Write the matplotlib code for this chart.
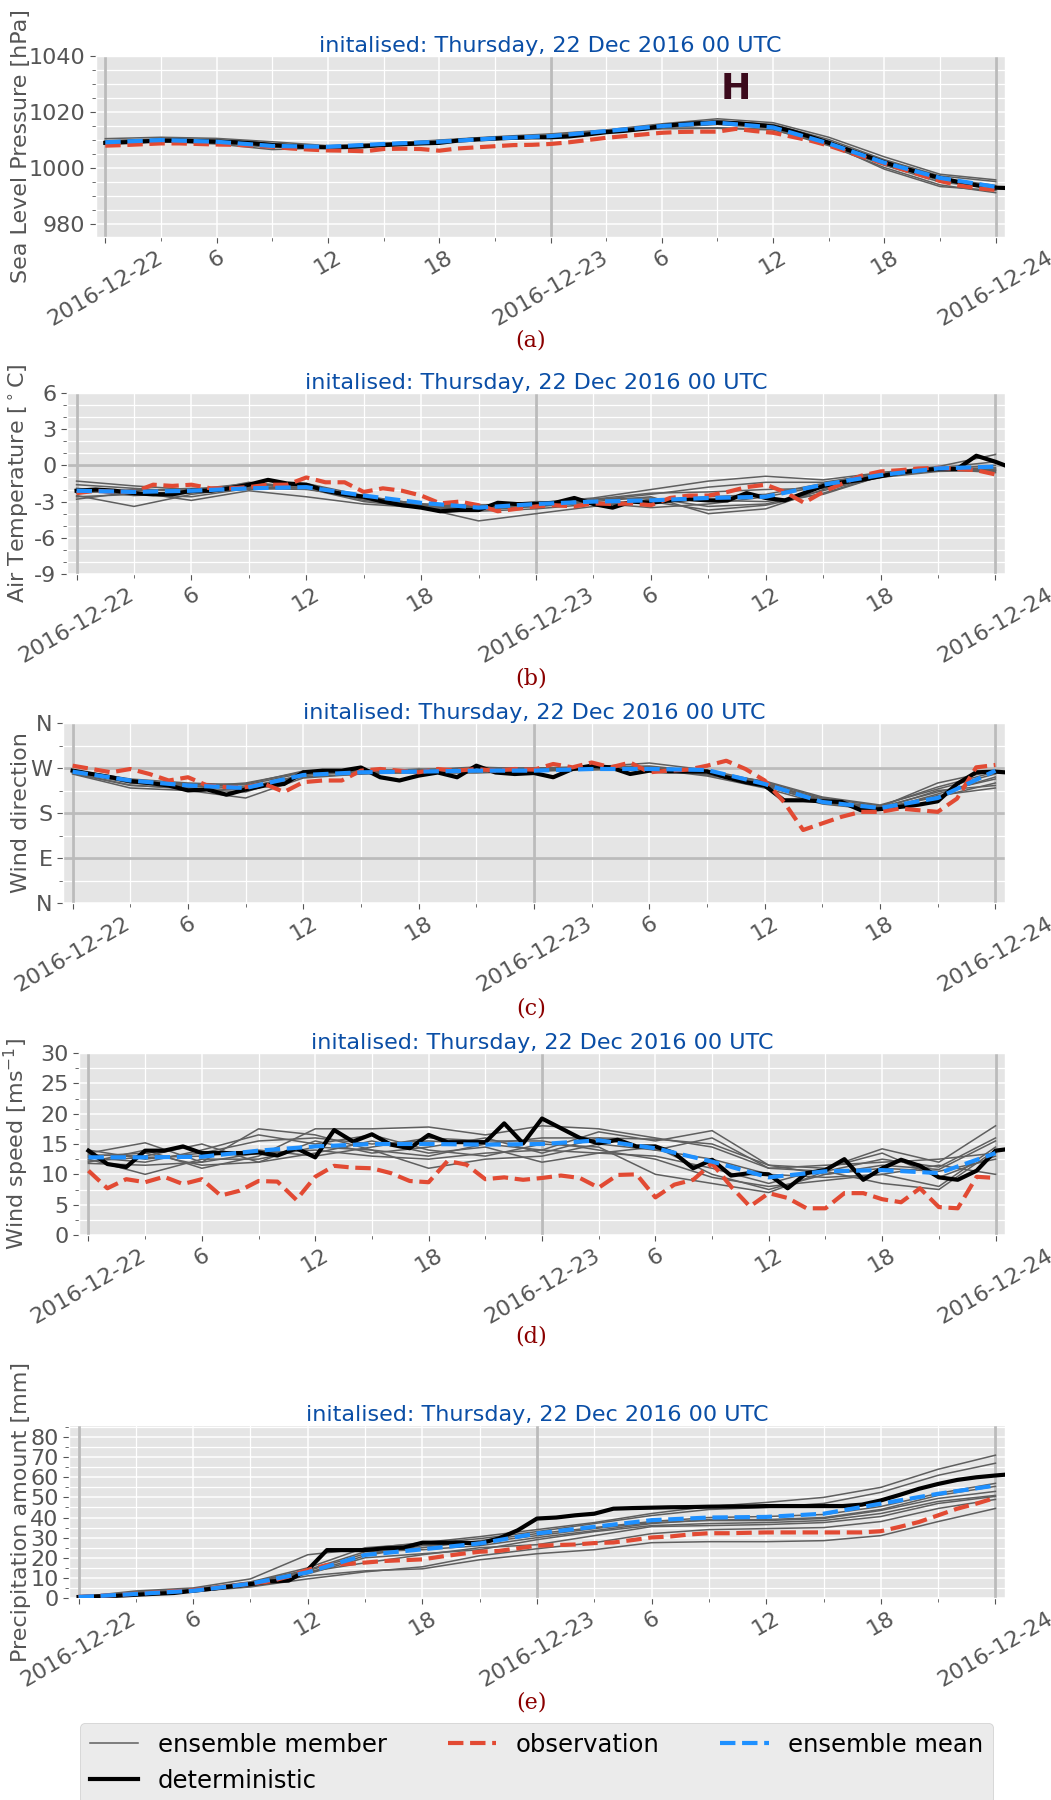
import numpy as np
import matplotlib
matplotlib.use('Agg')
import matplotlib.pyplot as plt
import matplotlib.dates as mdates
from matplotlib.ticker import MultipleLocator, FuncFormatter
from matplotlib.lines import Line2D

plt.style.use('ggplot')
plt.rcParams['axes.unicode_minus'] = False

# ---------------- data (hours after 2016-12-22 00 UTC) ----------------
start = np.datetime64('2016-12-22T00:00')
det_hours = np.arange(0, 50)      # deterministic, hourly
obs_hours = np.arange(0, 49)      # observation, hourly
ens_hours = np.arange(0, 49, 3)   # ensemble members / mean, 3-hourly

# (a) sea level pressure [hPa]
slp_members = [
    [1010.5, 1011.0, 1010.6, 1009.4, 1008.0, 1008.8, 1010.0, 1011.2, 1012.2, 1013.6, 1015.8, 1017.6, 1016.2, 1011.0, 1004.0, 997.8, 995.8],
    [1009.8, 1010.4, 1010.2, 1008.8, 1007.8, 1008.6, 1009.6, 1010.8, 1011.8, 1013.2, 1015.2, 1016.8, 1015.6, 1010.2, 1003.0, 997.2, 995.2],
    [1009.0, 1009.8, 1009.0, 1007.4, 1007.4, 1008.4, 1009.2, 1010.4, 1011.2, 1013.0, 1014.8, 1016.2, 1014.8, 1009.2, 1001.8, 996.0, 993.5],
    [1008.6, 1009.4, 1008.6, 1006.6, 1007.2, 1008.2, 1009.4, 1010.2, 1011.0, 1012.6, 1014.4, 1015.6, 1014.2, 1008.4, 1001.0, 995.0, 992.8],
    [1009.4, 1009.8, 1009.4, 1007.8, 1007.6, 1008.8, 1009.8, 1010.6, 1011.6, 1013.4, 1015.0, 1016.4, 1015.0, 1009.0, 1002.2, 996.8, 992.2],
    [1009.2, 1010.0, 1009.6, 1008.2, 1007.4, 1008.4, 1009.0, 1010.4, 1011.2, 1012.8, 1014.2, 1014.4, 1013.8, 1008.0, 1000.2, 994.0, 991.2],
    [1008.8, 1009.6, 1009.2, 1008.0, 1007.8, 1008.8, 1009.6, 1010.8, 1011.6, 1013.4, 1015.4, 1017.0, 1015.2, 1009.6, 1002.6, 996.4, 993.8],
    [1009.6, 1010.2, 1009.8, 1008.4, 1007.2, 1008.2, 1009.2, 1010.6, 1011.4, 1013.0, 1014.6, 1015.8, 1014.6, 1008.8, 1001.4, 995.6, 992.6],
    [1009.0, 1009.6, 1009.0, 1007.6, 1007.6, 1008.6, 1009.4, 1010.4, 1011.2, 1012.8, 1014.0, 1014.2, 1013.6, 1008.6, 999.6, 993.4, 992.0],
]
slp_mean = [1009.2, 1010.0, 1009.4, 1007.9, 1007.6, 1008.6, 1009.4, 1010.6, 1011.4, 1013.2,
            1015.0, 1016.2, 1014.5, 1008.8, 1001.9, 996.5, 993.3]
slp_det = [1009.0, 1009.2, 1009.5, 1009.8, 1009.8, 1009.6, 1009.4, 1009.2, 1008.8, 1008.2,
           1007.8, 1007.5, 1007.4, 1007.5, 1007.8, 1008.2, 1008.5, 1008.8, 1009.0, 1009.8,
           1010.2, 1010.5, 1010.8, 1011.0, 1011.0, 1011.3, 1012.0, 1012.8, 1013.3, 1014.0,
           1015.0, 1015.6, 1016.0, 1016.2, 1016.0, 1015.5, 1014.8, 1013.2, 1011.2, 1009.0,
           1006.6, 1004.3, 1002.0, 1000.0, 998.2, 996.5, 995.0, 993.8, 993.0, 992.8]
slp_obs = [1008.0, 1008.2, 1008.5, 1008.8, 1008.8, 1008.6, 1008.4, 1008.3, 1008.0, 1007.6,
           1007.0, 1006.6, 1006.3, 1006.2, 1006.0, 1006.8, 1006.9, 1006.8, 1006.2, 1007.0,
           1007.4, 1007.8, 1008.2, 1008.3, 1008.6, 1009.2, 1010.0, 1010.8, 1011.4, 1012.0,
           1012.6, 1012.9, 1013.0, 1013.0, 1014.0, 1013.2, 1012.6, 1011.2, 1009.8, 1008.0,
           1005.8, 1003.7, 1001.6, 999.5, 997.4, 995.4, 993.8, 992.8, 992.2]

# (b) air temperature [degC]
t2m_members = [
    [-1.3, -1.7, -2.0, -1.5, -1.7, -2.6, -3.2, -3.3, -3.1, -2.7, -2.0, -1.3, -0.9, -1.2, -0.6, -0.1, 0.9],
    [-1.6, -1.9, -2.2, -1.7, -1.5, -2.5, -3.3, -3.5, -3.3, -2.9, -2.4, -1.8, -1.4, -1.4, -0.7, -0.2, 0.3],
    [-2.8, -2.2, -2.9, -2.1, -2.6, -3.2, -3.5, -4.6, -4.0, -3.4, -2.8, -2.9, -3.0, -2.4, -0.9, -0.4, -0.4],
    [-2.5, -3.4, -2.4, -1.8, -1.9, -2.8, -3.4, -3.6, -3.4, -3.0, -2.6, -4.0, -3.6, -2.0, -0.8, -0.3, -0.6],
    [-2.2, -2.1, -1.9, -1.9, -1.6, -2.7, -3.3, -3.3, -3.2, -2.8, -2.7, -3.4, -3.2, -2.1, -0.9, -0.4, -0.3],
    [-1.9, -2.3, -2.2, -2.0, -1.8, -2.9, -3.4, -3.4, -3.0, -3.1, -3.5, -3.2, -2.6, -1.7, -0.7, -0.2, -0.5],
    [-2.0, -2.5, -2.3, -1.4, -1.9, -3.0, -3.5, -3.7, -3.4, -3.1, -3.0, -3.7, -3.3, -2.3, -0.9, -0.3, -0.2],
    [-2.3, -2.0, -2.1, -1.6, -1.7, -2.7, -3.2, -3.5, -3.3, -2.8, -2.3, -2.2, -2.0, -1.9, -1.0, -0.5, -0.4],
    [-2.6, -2.4, -2.6, -1.9, -2.0, -2.6, -3.2, -3.8, -3.6, -3.2, -2.9, -2.6, -2.4, -1.5, -0.6, -0.3, 0.0],
]
t2m_mean = [-2.1, -2.2, -2.1, -1.9, -1.8, -2.5, -3.1, -3.5, -3.2, -3.0, -2.9, -2.7, -2.6, -1.6,
            -0.8, -0.25, -0.1]
t2m_det = [-2.1, -2.0, -2.1, -2.3, -2.4, -2.4, -2.1, -2.1, -1.9, -1.6,
           -1.2, -1.5, -1.6, -2.1, -2.4, -2.6, -3.0, -3.3, -3.5, -3.8,
           -3.7, -3.7, -3.1, -3.2, -3.2, -3.1, -2.7, -3.2, -3.5, -3.0,
           -3.1, -2.9, -2.8, -2.9, -2.9, -2.3, -2.7, -2.9, -2.3, -1.7,
           -1.4, -1.2, -0.9, -0.6, -0.4, -0.3, -0.3, 0.8, 0.3, -0.3]
t2m_obs = [-2.3, -2.1, -2.2, -2.2, -1.6, -1.7, -1.6, -1.9, -1.9, -1.8,
           -1.6, -1.6, -1.0, -1.4, -1.4, -2.2, -1.9, -2.1, -2.5, -3.15,
           -3.0, -3.3, -3.8, -3.6, -3.4, -3.3, -3.4, -3.15, -3.2, -3.15,
           -3.3, -2.7, -2.5, -2.5, -2.2, -1.8, -1.6, -2.2, -3.1, -2.2,
           -1.5, -0.85, -0.5, -0.4, -0.25, -0.2, -0.3, -0.4, -0.75]

# (c) wind direction [deg]
dir_members = [
    [262, 240, 232, 240, 262, 262, 264, 268, 270, 272, 274, 262, 240, 206, 192, 240, 265],
    [258, 230, 225, 210, 250, 258, 262, 262, 266, 268, 270, 256, 236, 200, 188, 225, 235],
    [265, 245, 238, 232, 255, 264, 266, 270, 270, 272, 280, 266, 242, 210, 194, 232, 262],
    [260, 236, 228, 222, 258, 260, 260, 260, 264, 266, 268, 254, 230, 198, 186, 215, 230],
    [263, 242, 234, 230, 256, 262, 268, 266, 268, 270, 270, 260, 244, 212, 196, 228, 258],
    [266, 248, 240, 236, 260, 264, 262, 264, 266, 270, 272, 264, 238, 204, 190, 212, 240],
    [259, 235, 230, 226, 252, 258, 264, 262, 264, 268, 268, 258, 234, 202, 192, 222, 248],
    [262, 244, 236, 238, 264, 266, 266, 272, 268, 270, 272, 262, 238, 208, 186, 218, 252],
]
dir_mean = [262.7, 245, 235, 230, 256, 261.4, 262.7, 264.7, 264.7, 268, 268, 266, 238, 202,
            190, 210, 264.7]
dir_det = [264.7, 258, 251.5, 243.6, 240, 235, 225.2, 227, 216.6, 227,
           235, 238, 261.4, 264.7, 264.7, 271, 251.5, 245, 254.8, 261,
           251.5, 274.6, 261, 258, 260, 251.5, 268, 274.6, 271, 258,
           264.7, 263, 263, 263, 251.5, 241.7, 235, 205.4, 205.4, 203.4,
           202, 185.6, 187.6, 192, 196.6, 203.4, 238, 261.4, 262.7, 260]
dir_obs = [274.6, 268, 261.4, 268, 258, 245, 251.5, 235, 231.8, 231.8,
           238, 222, 241.7, 245, 245, 264.7, 268, 264.7, 261.4, 268,
           264.7, 268, 264.7, 268, 266.7, 278, 271.3, 281, 271.3, 281,
           261.4, 264.7, 266.7, 274.6, 284.5, 268, 245, 202, 146, 159.3,
           172.4, 182.3, 182.3, 189, 185.6, 182.3, 208.7, 271.3, 276]

# (d) wind speed [m s-1]
ff_members = [
    [13.5, 15.2, 12.0, 17.5, 16.5, 14.0, 13.0, 15.0, 14.0, 17.0, 15.5, 17.2, 11.5, 11.0, 14.2, 12.0, 18.0],
    [12.0, 14.0, 11.0, 13.0, 17.5, 17.5, 17.8, 16.5, 18.0, 17.5, 16.0, 14.5, 11.0, 10.5, 12.5, 11.2, 16.0],
    [14.0, 12.5, 13.5, 15.5, 16.0, 15.0, 15.5, 15.0, 16.0, 16.0, 15.8, 15.0, 11.5, 10.0, 11.5, 10.8, 15.5],
    [12.5, 10.0, 12.5, 12.5, 14.5, 14.0, 11.0, 12.5, 13.0, 15.0, 14.0, 12.5, 10.0, 9.5, 10.0, 8.0, 14.5],
    [11.8, 11.5, 12.0, 13.5, 14.0, 13.0, 12.5, 13.5, 14.0, 13.5, 13.0, 11.0, 8.5, 11.0, 13.5, 9.5, 13.0],
    [13.0, 13.5, 11.5, 12.0, 13.5, 15.5, 13.5, 14.5, 12.0, 13.5, 14.5, 10.0, 7.5, 10.0, 11.0, 10.5, 12.5],
    [12.8, 12.0, 14.0, 16.5, 15.0, 16.5, 14.0, 13.0, 15.0, 14.5, 10.0, 8.5, 7.0, 10.5, 8.5, 7.5, 14.0],
    [12.2, 12.8, 13.0, 14.0, 13.0, 14.5, 16.0, 15.5, 15.5, 14.0, 12.5, 9.5, 8.0, 9.0, 10.0, 11.5, 10.0],
    [13.2, 13.0, 15.0, 12.0, 15.5, 13.5, 14.5, 16.0, 13.5, 16.0, 14.0, 16.0, 11.0, 11.5, 12.0, 12.5, 13.5],
]
ff_mean = [12.8, 12.8, 12.9, 13.9, 14.6, 15.0, 15.0, 14.9, 15.0, 15.6, 14.3, 12.1, 9.5, 10.5,
           10.7, 10.2, 13.5]
ff_det = [13.9, 11.7, 11.2, 13.9, 13.9, 14.6, 13.5, 13.5, 13.5, 13.6,
          13.1, 14.3, 12.8, 17.3, 15.4, 16.6, 14.9, 14.3, 16.5, 15.3,
          15.3, 15.3, 18.4, 15.1, 19.2, 17.6, 16.0, 15.1, 15.7, 14.6,
          14.6, 13.5, 11.0, 12.4, 9.8, 10.2, 10.0, 7.7, 10.2, 10.7,
          12.5, 9.1, 11.0, 12.4, 11.4, 9.5, 9.1, 10.6, 13.9, 14.3]
ff_obs = [10.6, 7.7, 9.2, 8.7, 9.6, 8.4, 9.2, 6.5, 7.3, 8.9,
          8.8, 5.8, 9.6, 11.4, 11.1, 11.0, 10.2, 8.9, 8.7, 12.2,
          11.6, 9.2, 9.5, 9.1, 9.4, 9.8, 9.4, 7.8, 9.9, 10.0,
          6.2, 8.3, 9.1, 11.8, 8.0, 4.7, 6.9, 6.1, 4.4, 4.4,
          6.9, 6.9, 5.9, 5.4, 7.7, 4.6, 4.4, 9.6, 9.4]

# (e) accumulated precipitation [mm]
rr_members = [
    [0.5, 3.5, 5.0, 9.5, 21.5, 24.5, 27.5, 30.5, 34.0, 37.5, 42.0, 45.5, 47.5, 50.0, 55.0, 64.0, 71.0],
    [0.5, 3.0, 4.5, 8.0, 15.0, 25.0, 27.0, 29.5, 33.0, 37.0, 41.0, 44.0, 45.0, 47.0, 52.5, 61.0, 67.0],
    [0.3, 2.5, 4.0, 7.5, 13.5, 22.0, 25.0, 28.5, 32.0, 35.0, 38.0, 40.0, 40.5, 41.5, 45.5, 52.0, 57.0],
    [0.4, 2.2, 3.8, 6.5, 12.0, 20.0, 22.0, 24.0, 29.0, 33.0, 36.0, 37.0, 37.5, 38.5, 42.0, 48.0, 51.0],
    [0.2, 2.0, 3.5, 6.0, 11.0, 13.5, 14.5, 19.0, 22.0, 24.0, 27.5, 28.0, 28.0, 28.5, 31.0, 38.0, 44.5],
    [0.3, 1.8, 3.2, 5.5, 9.5, 13.0, 15.5, 21.0, 24.5, 27.5, 32.0, 34.0, 34.5, 35.0, 38.0, 44.5, 49.0],
    [0.4, 2.4, 3.9, 7.0, 12.5, 21.0, 26.0, 27.5, 31.0, 34.5, 37.5, 38.5, 38.5, 39.5, 43.5, 49.5, 53.0],
    [0.3, 2.1, 3.6, 6.8, 13.0, 17.5, 21.5, 25.0, 26.5, 31.0, 35.5, 36.0, 36.5, 37.5, 40.5, 47.0, 50.5],
    [0.5, 2.6, 4.2, 7.8, 14.0, 23.0, 24.0, 26.0, 30.0, 33.5, 37.0, 39.0, 39.0, 40.0, 44.0, 51.0, 55.5],
]
rr_mean = [0.5, 2.0, 3.6, 7.1, 12.8, 21.4, 24.2, 27.1, 32.1, 35.4, 38.7, 40.0, 40.3, 41.9,
           46.9, 51.8, 55.9]
rr_det = [0.5, 0.8, 1.1, 1.6, 2.1, 2.5, 3.6, 4.6, 5.8, 6.9,
          8.2, 8.7, 14.0, 23.8, 23.8, 23.8, 24.7, 25.0, 27.5, 27.5,
          27.5, 27.1, 29.6, 33.7, 39.5, 40.0, 41.1, 41.9, 44.4, 44.7,
          44.9, 45.1, 45.2, 45.4, 45.5, 45.5, 45.7, 45.7, 45.7, 45.7,
          45.7, 46.4, 48.5, 51.3, 54.3, 56.7, 58.7, 60.0, 60.9, 61.7]
rr_obs = [0.5, 1.0, 1.5, 2.1, 2.7, 3.3, 3.9, 4.9, 6.0, 7.1,
          8.2, 10.7, 14.0, 16.4, 16.9, 17.6, 18.4, 18.8, 19.2, 20.6,
          21.9, 23.0, 23.4, 24.7, 26.0, 26.3, 26.6, 27.3, 27.6, 28.8,
          30.1, 30.6, 31.6, 32.2, 32.2, 32.4, 32.6, 32.6, 32.6, 32.6,
          32.6, 32.6, 33.2, 35.4, 37.8, 41.1, 44.4, 46.9, 49.8]

ylabels = ['Sea Level Pressure [hPa]', r'Air Temperature [$^\circ$C]', 'Wind direction',
           r'Wind speed [ms$^{-1}$]', 'Precipitation amount [mm]']
panel_tags = ['(a)', '(b)', '(c)', '(d)', '(e)']
title_text = 'initalised: Thursday, 22 Dec 2016 00 UTC'

# ---------------- layout (pixel boxes: left, top, bottom) ----------------
W, H = 1051, 1800
fig = plt.figure(figsize=(W / 100, H / 100), dpi=100)
fig.patch.set_facecolor('white')
right_px = 1005
boxes = [(96, 56, 237), (67, 393, 574), (63, 723, 903), (79, 1053, 1235), (69, 1425, 1598)]
tag_y = [341, 678, 1008, 1337, 1702]


def to_time(h):
    return start + np.asarray(h).astype('timedelta64[h]')


def tick_fmt(x, pos):
    d = mdates.num2date(x)
    if d.hour == 0:
        return d.strftime('%Y-%m-%d')
    return str(d.hour)


panels = [
    (slp_members, slp_mean, slp_det, slp_obs),
    (t2m_members, t2m_mean, t2m_det, t2m_obs),
    (dir_members, dir_mean, dir_det, dir_obs),
    (ff_members, ff_mean, ff_det, ff_obs),
    (rr_members, rr_mean, rr_det, rr_obs),
]

tick_col = '#555555'
for i, (members, mean, det, obs) in enumerate(panels):
    left, top, bot = boxes[i]
    ax = fig.add_axes([left / W, 1 - bot / H, (right_px - left) / W, (bot - top) / H])

    for m in members:
        ax.plot(to_time(ens_hours), m, color='#5f5f5f', lw=1.1, zorder=3)
    ax.plot(to_time(det_hours), det, color='black', lw=3, zorder=4)
    ax.plot(to_time(obs_hours), obs, color='#E24A33', lw=3, ls='--', zorder=5)
    ax.plot(to_time(ens_hours), mean, color='#1E90FF', lw=3, ls='--', zorder=6)

    for d in [0, 24, 48]:
        ax.axvline(to_time(d), color='#BBBBBB', lw=2, zorder=2)

    ax.set_xlim(start - np.timedelta64(30, 'm'), start + np.timedelta64(48 * 60 + 30, 'm'))
    ax.xaxis.set_major_locator(mdates.HourLocator(byhour=[0, 6, 12, 18]))
    ax.xaxis.set_minor_locator(mdates.HourLocator(byhour=range(0, 24, 3)))
    ax.xaxis.set_major_formatter(FuncFormatter(tick_fmt))
    for lab in ax.get_xticklabels():
        lab.set_rotation(30)
        lab.set_ha('center')

    ax.grid(True, which='major', color='white', lw=1.1)
    ax.grid(True, which='minor', color='white', lw=0.9)
    ax.tick_params(axis='both', which='major', labelsize=16, colors=tick_col, length=4)
    ax.tick_params(axis='both', which='minor', colors=tick_col, length=3)
    ax.tick_params(axis='x', labelrotation=30)

    ax.set_title(title_text, color='#0a4ea6', fontsize=16, pad=3)
    ax.set_ylabel(ylabels[i], fontsize=16, color=tick_col)
    ax.yaxis.set_label_coords((31 - left) / (right_px - left), 0.5)

    if i == 0:
        ax.set_ylim(975.4, 1040)
        ax.yaxis.set_major_locator(MultipleLocator(20))
        ax.yaxis.set_minor_locator(MultipleLocator(5))
        ax.text(to_time(34.3), 1028.3, 'H', fontsize=26, fontweight='bold',
                color='#3b0a1c', ha='center', va='center', zorder=7)
    elif i == 1:
        ax.set_ylim(-9, 6)
        ax.yaxis.set_major_locator(MultipleLocator(3))
        ax.yaxis.set_minor_locator(MultipleLocator(1))
        ax.axhline(0, color='#BBBBBB', lw=2, zorder=2)
    elif i == 2:
        ax.set_ylim(0, 360)
        ax.set_yticks([0, 90, 180, 270, 360])
        ax.set_yticklabels(['N', 'E', 'S', 'W', 'N'])
        ax.yaxis.set_minor_locator(MultipleLocator(45))
        for d in [90, 180, 270]:
            ax.axhline(d, color='#BBBBBB', lw=2, zorder=2)
    elif i == 3:
        ax.set_ylim(0, 30)
        ax.yaxis.set_major_locator(MultipleLocator(5))
        ax.yaxis.set_minor_locator(MultipleLocator(2.5))
    else:
        ax.set_ylim(0, 86)
        ax.yaxis.set_major_locator(MultipleLocator(10))
        ax.yaxis.set_minor_locator(MultipleLocator(5))

    fig.text(531 / W, 1 - tag_y[i] / H, panel_tags[i], family='DejaVu Serif',
             fontsize=16, color='#8b0000', ha='center', va='center')

handles = [
    Line2D([], [], color='#5f5f5f', lw=1.1),
    Line2D([], [], color='black', lw=3),
    Line2D([], [], color='#E24A33', lw=3, ls='--'),
    Line2D([], [], color='#1E90FF', lw=3, ls='--'),
]
labels = ['ensemble member', 'deterministic', 'observation', 'ensemble mean']
fig.legend(handles, labels, ncol=3, loc='upper left', fontsize=17.5,
           bbox_to_anchor=(80 / W, 1 - 1723 / H), borderaxespad=0, columnspacing=2.5,
           facecolor='#EBEBEB', edgecolor='#CCCCCC', framealpha=1)

fig.savefig('out.png', dpi=100)
